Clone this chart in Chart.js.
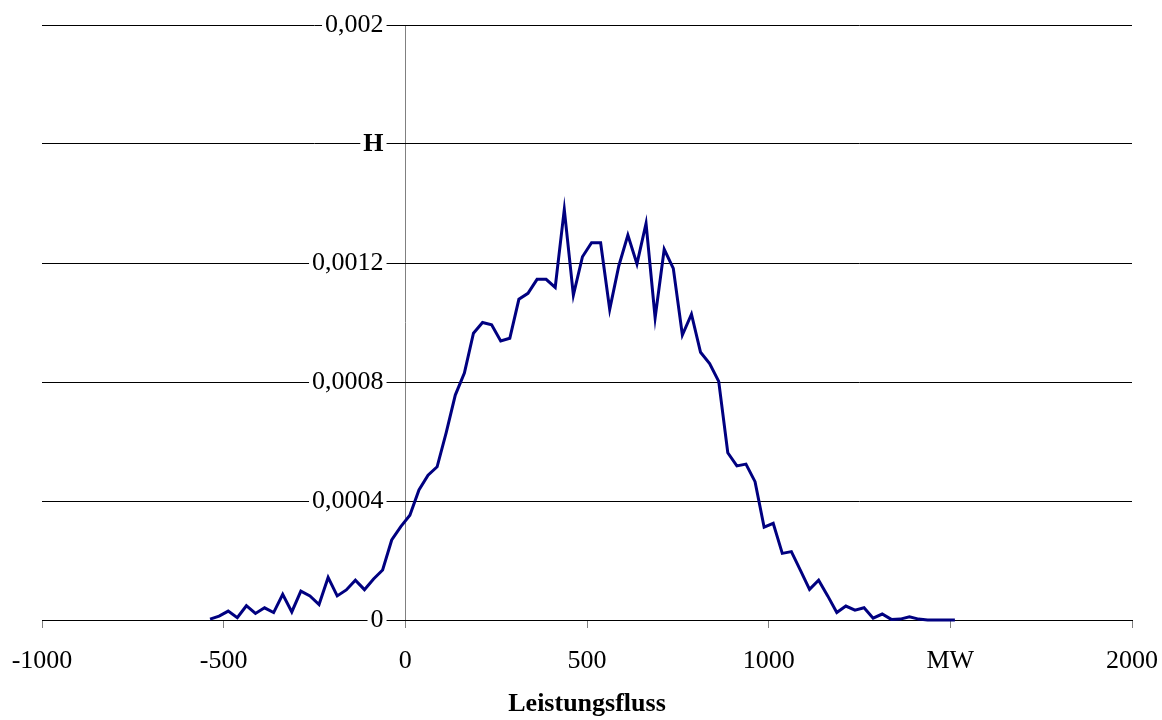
<!DOCTYPE html>
<html>
<head>
<meta charset="utf-8">
<script src="https://cdn.jsdelivr.net/npm/chart.js@4"></script>
<style>
  html, body { margin: 0; background: #fff; }
  #wrap { width: 1162px; height: 720px; }
</style>
</head>
<body>
<div id="wrap"><canvas id="chart"></canvas></div>
<script>
// power flow (MW) and relative frequency H
const mw = [-537.5, -512.5, -487.5, -462.5, -437.5, -412.5, -387.5, -362.5, -337.5, -312.5,
  -287.5, -262.5, -237.5, -212.5, -187.5, -162.5, -137.5, -112.5, -87.5, -62.5,
  -37.5, -12.5, 12.5, 37.5, 62.5, 87.5, 112.5, 137.5, 162.5, 187.5,
  212.5, 237.5, 262.5, 287.5, 312.5, 337.5, 362.5, 387.5, 412.5, 437.5,
  462.5, 487.5, 512.5, 537.5, 562.5, 587.5, 612.5, 637.5, 662.5, 687.5,
  712.5, 737.5, 762.5, 787.5, 812.5, 837.5, 862.5, 887.5, 912.5, 937.5,
  962.5, 987.5, 1012.5, 1037.5, 1062.5, 1087.5, 1112.5, 1137.5, 1162.5, 1187.5,
  1212.5, 1237.5, 1262.5, 1287.5, 1312.5, 1337.5, 1362.5, 1387.5, 1412.5, 1437.5,
  1462.5, 1487.5, 1512.5];
const h = [0.000003, 0.000013, 0.000030, 0.000008, 0.000048, 0.000022, 0.000041, 0.000025, 0.000086, 0.000027,
  0.000097, 0.000081, 0.000052, 0.000143, 0.000081, 0.000101, 0.000134, 0.000102, 0.000138, 0.000168,
  0.000269, 0.000314, 0.000352, 0.000437, 0.000487, 0.000515, 0.000630, 0.000756, 0.000830, 0.000964,
  0.001000, 0.000992, 0.000938, 0.000947, 0.001078, 0.001098, 0.001145, 0.001145, 0.001118, 0.001380,
  0.001092, 0.001221, 0.001268, 0.001268, 0.001044, 0.001190, 0.001294, 0.001197, 0.001333, 0.001016,
  0.001246, 0.001182, 0.000958, 0.001028, 0.000900, 0.000862, 0.000802, 0.000562, 0.000518, 0.000524,
  0.000465, 0.000312, 0.000325, 0.000224, 0.000230, 0.000167, 0.000103, 0.000134, 0.000081, 0.000025,
  0.000047, 0.000033, 0.000041, 0.000006, 0.000020, 0.000002, 0.000003, 0.000011, 0.000003, 0.000000,
  0.000000, 0.000000, 0.000000];

const xTicks = [-1000, -500, 0, 500, 1000, 1500, 2000];
const xTickText = ['-1000', '-500', '0', '500', '1000', 'MW', '2000'];
const yTicks = [0, 0.0004, 0.0008, 0.0012, 0.0016, 0.002];
const yTickText = ['0', '0,0004', '0,0008', '0,0012', 'H', '0,002'];

const serif = "'Liberation Serif', 'Times New Roman', serif";

new Chart(document.getElementById('chart'), {
  type: 'line',
  data: {
    datasets: [{
      data: mw.map((x, i) => ({x, y: h[i]})),
      borderColor: '#000080',
      borderWidth: 3,
      pointRadius: 0,
      tension: 0,
      clip: false
    }]
  },
  options: {
    responsive: true,
    maintainAspectRatio: false,
    animation: false,
    layout: { padding: { left: 42, right: 30, top: 25, bottom: 0 } },
    plugins: { legend: { display: false }, tooltip: { enabled: false } },
    scales: {
      x: {
        type: 'linear',
        min: -1000, max: 2000,
        afterBuildTicks: s => { s.ticks = xTicks.map(v => ({value: v})); },
        afterFit: s => { s.paddingLeft = 0; s.paddingRight = 0; s.height = 100; },
        // only the line at 0 is drawn: it is the vertical axis
        grid: {
          drawOnChartArea: true, drawTicks: true, tickLength: 8,
          color: c => (c.tick && c.tick.value === 0) ? '#808080' : 'rgba(0,0,0,0)',
          tickColor: '#808080'
        },
        border: { color: '#000', width: 1 },
        ticks: {
          color: '#000', padding: 18, maxRotation: 0, autoSkip: false,
          font: { family: serif, size: 26 },
          callback: (v, i) => xTickText[i]
        },
        title: {
          display: true, text: 'Leistungsfluss', color: '#000',
          font: { family: serif, size: 26, weight: 'bold' },
          padding: { top: 10, bottom: 0 }
        }
      },
      y: {
        type: 'linear',
        position: { x: -60 },
        min: 0, max: 0.002,
        afterBuildTicks: s => { s.ticks = yTicks.map(v => ({value: v})); },
        afterFit: s => { s.paddingTop = 0; s.paddingBottom = 0; },
        grid: { color: '#000', lineWidth: 1, drawTicks: false },
        border: { display: false },
        ticks: {
          color: '#000', padding: 0,
          showLabelBackdrop: true, backdropColor: '#fff', backdropPadding: 3,
          font: c => ({ family: serif, size: 26, weight: c.index === 4 ? 'bold' : 'normal' }),
          callback: (v, i) => yTickText[i]
        }
      }
    }
  }
});
</script>
</body>
</html>
